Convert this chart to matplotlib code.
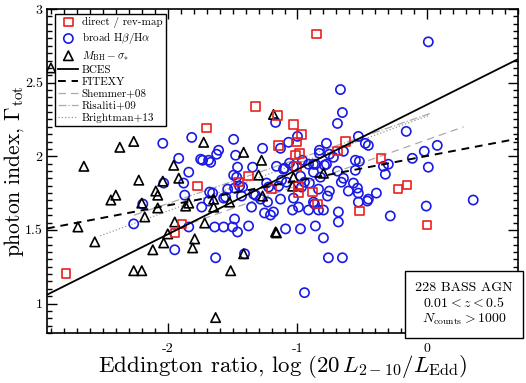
import matplotlib
matplotlib.use("Agg")
import matplotlib.pyplot as plt
from matplotlib.ticker import MultipleLocator
from matplotlib.offsetbox import AnchoredText
import numpy as np

plt.rcParams['font.family'] = 'serif'
plt.rcParams['font.serif'] = ['cmr10']
plt.rcParams['mathtext.fontset'] = 'cm'
plt.rcParams['axes.unicode_minus'] = False

# direct / reverberation mapping masses
rev_x = [-2.785, -0.854, -1.323, -1.70, -1.154, -1.03, -0.969, -1.008, -1.146, -0.631,
         -0.692, -0.985, -1.015, -1.008, -1.377, -1.454, -1.2, -0.992, -0.885, -0.846,
         -0.523, -1.77, -1.892, -1.946, -0.354, -0.223, -0.154, 0.0, -0.992]
rev_y = [1.203, 2.83, 2.338, 2.19, 2.277, 2.216, 2.149, 2.095, 2.074, 2.101,
         2.034, 2.02, 2.007, 1.93, 1.865, 1.824, 1.777, 1.75, 1.757, 1.676,
         1.628, 1.797, 1.54, 1.48, 1.986, 1.777, 1.804, 1.534, 1.797]

# broad Hbeta / Halpha masses
broad_x = [-2.038, -1.815, -1.915, -1.746, -1.838, -1.877, -2.031, -1.869, -2.192, -1.738,
           -2.262, -1.838, -1.946, -1.685, -1.623, -1.608, -1.492, -1.477, -1.269, -1.169,
           -1.462, -1.346, -1.492, -1.485, -1.446, -1.431, -1.569, -1.554, -1.654, -1.685,
           -1.354, -1.238, -1.338, -1.285, -1.162, -1.131, -1.254, -1.208, -1.185, -1.485,
           -1.462, -1.500, -1.569, -1.638, -1.377, -1.631, -1.408, -1.223, -1.146, -0.669,
           -0.654, -0.692, -1.669, -1.131, -1.069, -1.000, -0.777, -0.831, -0.831, -0.754,
           -0.723, -0.646, -0.531, -0.554, -0.777, -0.877, -0.915, -0.962, -1.062, -1.108,
           -1.731, 0.008, -0.162, -0.477, -0.454, 0.077, -0.023, -0.115, 0.008, -0.338,
           -0.300, -0.323, -0.523, -0.554, -0.792, -0.862, -1.031, -0.977, -0.877, -0.823,
           -0.646, -0.662, -0.569, -0.538, -0.608, -0.754, -0.838, -0.908, -0.969, -1.085,
           -1.031, -0.769, -0.531, -0.392, -0.454, -0.462, -0.531, -0.869, -0.838, -0.800,
           -0.915, -0.992, -1.038, -0.685, -0.685, -0.285, -0.008, 0.354, -0.862, -0.977,
           -1.092, -0.800, -0.762, -0.654, -0.946, -0.692, -1.100, -1.469, -1.423, -1.538,
           -1.677, -1.323, -1.231, -1.123, -0.946, -0.877]
broad_y = [2.088, 2.128, 1.986, 1.980, 1.892, 1.818, 1.818, 1.736, 1.676, 1.655,
           1.541, 1.520, 1.365, 1.973, 2.014, 2.041, 2.115, 2.007, 2.054, 2.230,
           1.926, 1.926, 1.872, 1.784, 1.797, 1.730, 1.716, 1.723, 1.750, 1.696,
           1.655, 1.818, 1.743, 1.709, 1.932, 1.709, 1.615, 1.601, 1.622, 1.574,
           1.486, 1.520, 1.520, 1.520, 1.527, 1.311, 1.338, 1.791, 1.797, 2.453,
           2.297, 2.223, 1.959, 2.054, 2.095, 2.135, 2.088, 2.041, 2.020, 2.014,
           1.993, 2.034, 2.135, 1.973, 1.946, 1.946, 1.946, 1.973, 1.953, 1.912,
           1.973, 2.777, 2.169, 2.088, 2.074, 2.074, 2.034, 1.986, 1.926, 1.932,
           1.946, 1.878, 1.966, 1.905, 1.939, 1.946, 1.932, 1.865, 1.892, 1.858,
           1.851, 1.824, 1.818, 1.784, 1.764, 1.764, 1.777, 1.818, 1.791, 1.824,
           1.716, 1.730, 1.750, 1.750, 1.709, 1.696, 1.689, 1.676, 1.635, 1.635,
           1.635, 1.655, 1.635, 1.622, 1.554, 1.595, 1.662, 1.703, 1.527, 1.507,
           1.507, 1.446, 1.311, 1.311, 1.074, 1.899, 1.919, 1.858, 1.791, 1.777,
           1.757, 1.736, 1.689, 1.838, 1.824, 1.689]

# M_BH - sigma masses
msig_x = [-2.90, -2.646, -2.369, -2.262, -2.223, -2.400, -2.438, -2.092, -2.077, -2.038,
          -1.954, -1.915, -2.2, -2.077, -2.177, -2.692, -2.562, -2.115, -2.031, -2.0,
          -1.946, -1.862, -1.838, -1.723, -1.792, -1.808, -1.715, -2.262, -2.2, -1.646,
          -1.646, -1.523, -1.415, -1.515, -1.631, -1.415, -1.277, -1.3, -1.269, -1.169,
          -1.185, -1.031, -0.8, -1.038, -1.162]
msig_y = [2.60, 1.932, 2.061, 2.101, 1.838, 1.736, 1.703, 1.764, 1.736, 1.831,
          1.939, 1.851, 1.682, 1.649, 1.588, 1.52, 1.419, 1.365, 1.412, 1.473,
          1.554, 1.662, 1.682, 2.095, 1.439, 1.378, 1.547, 1.223, 1.223, 1.709,
          1.655, 1.689, 1.338, 1.223, 0.905, 2.027, 1.973, 1.872, 1.73, 1.486,
          2.284, 1.858, 1.885, 1.797, 1.48]

# fitted relations (end points)
bces_x, bces_y = [-2.93, 0.70], [1.06, 2.66]
fitexy_x, fitexy_y = [-2.93, 0.70], [1.51, 2.12]
shemmer_x, shemmer_y = [-2.00, 0.28], [1.49, 2.20]
risaliti_x, risaliti_y = [-2.26, 0.02], [1.60, 2.29]
brightman_x, brightman_y = [-2.52, 0.02], [1.46, 2.28]

fig = plt.figure(figsize=(5.26, 3.83), dpi=100)
ax = fig.add_axes([0.0894, 0.1305, 0.8956, 0.846])

ms = 36
ax.scatter(rev_x, rev_y, s=ms, marker='s', facecolors='none', edgecolors='#e82020',
           linewidths=1.2, label='direct / rev-map', zorder=4)
ax.scatter(broad_x, broad_y, s=ms + 8, marker='o', facecolors='none', edgecolors='#1a1ae6',
           linewidths=1.2, label=r'broad H$\beta$/H$\alpha$', zorder=3)
ax.scatter(msig_x, msig_y, s=ms + 10, marker='^', facecolors='none', edgecolors='black',
           linewidths=1.2, label=r'$M_{\rm BH}-\sigma_{*}$', zorder=3)

ax.plot(bces_x, bces_y, color='black', lw=1.3, label='BCES', zorder=5)
ax.plot(fitexy_x, fitexy_y, color='black', lw=1.4, ls=(0, (4, 3)), label='FITEXY', zorder=5)
ax.plot(shemmer_x, shemmer_y, color='#aaaaaa', lw=0.9, ls=(0, (6, 4)), label='Shemmer+08', zorder=2)
ax.plot(risaliti_x, risaliti_y, color='#aaaaaa', lw=0.9, ls='-.', label='Risaliti+09', zorder=2)
ax.plot(brightman_x, brightman_y, color='#999999', lw=0.9, ls=':', label='Brightman+13', zorder=2)

ax.set_xlim(-2.93, 0.70)
ax.set_ylim(0.80, 3.00)
ax.set_xticks([-2, -1, 0])
ax.set_xticklabels(['-2', '-1', '0'])
ax.set_yticks([1, 1.5, 2, 2.5, 3])
ax.set_yticklabels(['1', '1.5', '2', '2.5', '3'])
ax.xaxis.set_minor_locator(MultipleLocator(0.1))
ax.yaxis.set_minor_locator(MultipleLocator(0.05))
ax.tick_params(which='both', direction='in', top=True, right=True, labelsize=10, width=1)
ax.tick_params(which='major', length=7)
ax.tick_params(which='minor', length=3.5)
ax.tick_params(axis='x', which='major', pad=7)
ax.tick_params(axis='y', which='major', pad=3)
for sp in ax.spines.values():
    sp.set_linewidth(1.2)

ax.set_xlabel(r'Eddington ratio, $\log\,(20\,L_{2-10}/L_{\rm Edd})$', fontsize=16.5, labelpad=-1)
ax.set_ylabel(r'photon index, $\Gamma_{\rm tot}$', fontsize=15.5)
ax.yaxis.set_label_coords(-0.045, 0.5)

leg = ax.legend(loc='upper left', bbox_to_anchor=(0.017, 0.985), fontsize=8,
                frameon=True, fancybox=False, edgecolor='black', framealpha=1,
                handlelength=1.8, handletextpad=0.3, labelspacing=0.2, borderpad=0.3,
                borderaxespad=0)
leg.get_frame().set_linewidth(1.0)

at = AnchoredText('228 BASS AGN\n$0.01<z<0.5$\n$N_{\\rm counts}>1000$', loc='lower right',
                  borderpad=0, frameon=True, prop=dict(fontsize=10, ha='center', multialignment='center'))
at.patch.set_boxstyle('square,pad=0.35')
at.patch.set_linewidth(1.0)
ax.add_artist(at)

fig.savefig('out.png', dpi=100)
